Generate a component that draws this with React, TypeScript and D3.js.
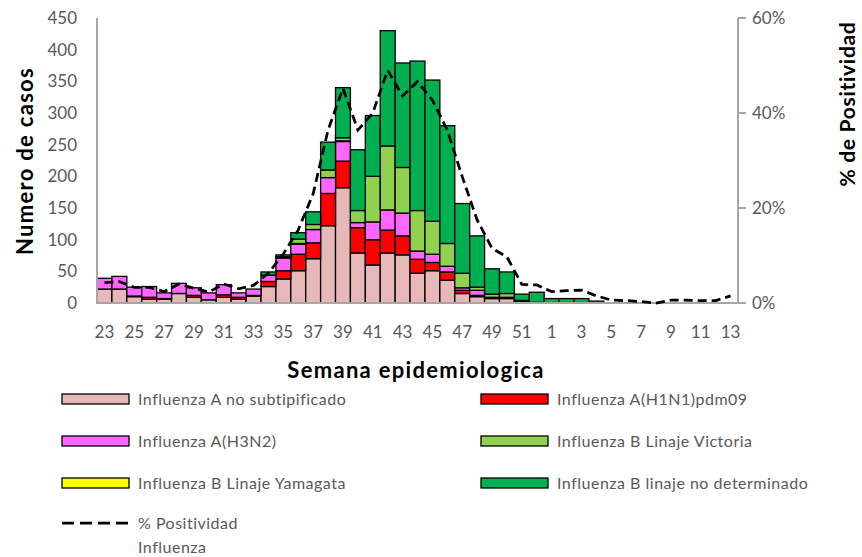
import React, { useEffect, useRef } from 'react'
import * as d3 from 'd3'

// semanas epidemiologicas (23 a 52, luego 1 a 13)
const weeks = [23, 24, 25, 26, 27, 28, 29, 30, 31, 32, 33, 34, 35, 36, 37, 38, 39, 40, 41, 42, 43, 44, 45, 46, 47, 48, 49, 50, 51, 52, 1, 2, 3, 4, 5, 6, 7, 8, 9, 10, 11, 12, 13]

const aNoSubtip = [22, 22, 10, 6, 6, 15, 9, 5, 9, 6, 11, 26, 38, 51, 70, 122, 182, 79, 60, 79, 76, 47, 51, 36, 15, 10, 7, 7, 2, 0, 0, 0, 0, 0, 0, 0, 0, 0, 0, 0, 0, 0, 0]
const aH1N1 = [0, 0, 1, 3, 1, 0, 3, 0, 4, 3, 1, 8, 13, 26, 25, 51, 42, 40, 40, 36, 30, 22, 13, 13, 5, 2, 2, 2, 1, 0, 0, 0, 0, 0, 0, 0, 0, 0, 0, 0, 0, 0, 0]
const aH3N2 = [17, 20, 14, 17, 9, 16, 12, 11, 16, 7, 10, 10, 20, 16, 21, 25, 31, 8, 28, 32, 36, 13, 13, 9, 4, 8, 0, 0, 0, 0, 0, 0, 0, 0, 0, 0, 0, 0, 0, 0, 0, 0, 0]
const bYamagata = [0, 0, 0, 0, 0, 0, 0, 0, 0, 0, 0, 0, 0, 1, 0, 0, 1, 0, 0, 0, 0, 0, 0, 0, 0, 0, 0, 0, 0, 0, 0, 0, 0, 0, 0, 0, 0, 0, 0, 0, 0, 0, 0]
const bVictoria = [0, 0, 0, 0, 0, 0, 0, 0, 0, 0, 0, 0, 2, 7, 8, 12, 5, 19, 72, 101, 72, 64, 52, 36, 23, 5, 5, 6, 1, 1, 0, 0, 0, 0, 0, 0, 0, 0, 0, 0, 0, 0, 0]
const bNoDet = [0, 0, 0, 0, 0, 0, 0, 0, 0, 0, 0, 5, 3, 10, 20, 44, 79, 96, 96, 182, 165, 236, 223, 186, 110, 81, 40, 34, 10, 16, 7, 7, 7, 3, 0, 0, 0, 0, 0, 0, 0, 0, 0]
const positividad = [4.3, 4.5, 3.3, 3.3, 2.4, 4.0, 3.1, 2.3, 4.0, 3.0, 3.7, 6.3, 10.3, 15.4, 23, 36.4, 45.2, 36.4, 40, 49, 43.6, 46.6, 42.7, 36.4, 26.6, 17.5, 11.5, 9.7, 3.9, 3.8, 2.4, 2.6, 2.7, 1.5, 0.6, 0.5, 0.3, 0, 0.6, 0.6, 0.5, 0.5, 1.5]

const seriesNames = ['Influenza A no subtipificado', 'Influenza A(H1N1)pdm09', 'Influenza A(H3N2)', 'Influenza B Linaje Victoria', 'Influenza B Linaje Yamagata', 'Influenza B linaje no determinado']
const seriesColors = ['#e6b8b7', '#ff0000', '#ff66ff', '#92d050', '#ffff00', '#00b050']
const yTicks = [0, 50, 100, 150, 200, 250, 300, 350, 400, 450]
const pctTicks = [0, 0.2, 0.4, 0.6]

const FONT = 'Lato, "Open Sans", sans-serif'

function App() {
  const ref = useRef<SVGSVGElement>(null)

  useEffect(() => {
    const svg = d3.select(ref.current)
    svg.selectAll('*').remove()

    const left = 97, right = 738, top = 18, bottom = 303

    const rows = weeks.map((w, i) => ({
      week: String(w),
      a: aNoSubtip[i],
      h1: aH1N1[i],
      h3: aH3N2[i],
      yam: bYamagata[i],
      vic: bVictoria[i],
      nd: bNoDet[i],
    }))
    const keys = ['a', 'h1', 'h3', 'yam', 'vic', 'nd']
    const keyColor: Record<string, string> = { a: '#e6b8b7', h1: '#ff0000', h3: '#ff66ff', yam: '#ffff00', vic: '#92d050', nd: '#00b050' }

    const x = d3.scaleBand<string>().domain(rows.map(d => d.week)).range([left, right]).padding(0)
    const y = d3.scaleLinear().domain([0, 450]).range([bottom, top])
    const yPct = d3.scaleLinear().domain([0, 0.6]).range([bottom, top])

    const stacked = d3.stack<any>().keys(keys)(rows)

    const g = svg.append('g')
    stacked.forEach(layer => {
      g.append('g')
        .selectAll('rect')
        .data(layer.filter(d => d[1] - d[0] > 0))
        .enter()
        .append('rect')
        .attr('x', d => x(d.data.week)!)
        .attr('width', x.bandwidth())
        .attr('y', d => y(d[1]))
        .attr('height', d => y(d[0]) - y(d[1]))
        .attr('fill', keyColor[layer.key])
        .attr('stroke', '#000')
        .attr('stroke-width', 1.3)
    })

    // ejes
    const axisColor = '#a6a6a6'
    svg.append('line').attr('x1', left).attr('x2', left).attr('y1', top).attr('y2', bottom)
      .attr('stroke', axisColor).attr('stroke-width', 2)
    svg.append('line').attr('x1', left - 1).attr('x2', right).attr('y1', bottom).attr('y2', bottom)
      .attr('stroke', axisColor).attr('stroke-width', 2)
    svg.append('line').attr('x1', right).attr('x2', right).attr('y1', top).attr('y2', bottom)
      .attr('stroke', axisColor).attr('stroke-width', 2)
    svg.selectAll('.rtick').data(pctTicks).enter().append('line')
      .attr('x1', right).attr('x2', right + 8)
      .attr('y1', d => yPct(d)).attr('y2', d => yPct(d))
      .attr('stroke', axisColor).attr('stroke-width', 2)

    // linea de positividad
    const line = d3.line<number>()
      .x((d, i) => x(rows[i].week)! + x.bandwidth() / 2)
      .y(d => yPct(d / 100))
    svg.append('path')
      .datum(positividad)
      .attr('d', line)
      .attr('fill', 'none')
      .attr('stroke', '#000')
      .attr('stroke-width', 2.75)
      .attr('stroke-dasharray', '9,5')

    const tickColor = '#595959'
    svg.selectAll('.ylab').data(yTicks).enter().append('text')
      .attr('x', 77).attr('y', d => y(d))
      .attr('dy', '0.35em').attr('text-anchor', 'end')
      .attr('font-family', FONT).attr('font-size', 17).attr('fill', tickColor)
      .text(d => d)

    svg.selectAll('.plab').data(pctTicks).enter().append('text')
      .attr('x', 752).attr('y', d => yPct(d))
      .attr('dy', '0.35em')
      .attr('font-family', FONT).attr('font-size', 17).attr('fill', tickColor)
      .text(d => d3.format('.0%')(d))

    svg.selectAll('.xlab').data(rows.filter((d, i) => i % 2 === 0)).enter().append('text')
      .attr('x', d => x(d.week)! + x.bandwidth() / 2).attr('y', 332)
      .attr('dy', '0.35em').attr('text-anchor', 'middle')
      .attr('font-family', FONT).attr('font-size', 17).attr('fill', tickColor)
      .text(d => d.week)

    // titulos
    svg.append('text').attr('x', 416).attr('y', 370).attr('dy', '0.35em')
      .attr('text-anchor', 'middle').attr('font-family', FONT).attr('font-weight', 'bold')
      .attr('font-size', 22).attr('letter-spacing', 1.3).text('Semana epidemiologica')
    svg.append('text').attr('transform', 'translate(25,161) rotate(-90)').attr('dy', '0.35em')
      .attr('text-anchor', 'middle').attr('font-family', FONT).attr('font-weight', 'bold')
      .attr('font-size', 22).attr('letter-spacing', 1.3).text('Numero de casos')
    svg.append('text').attr('transform', 'translate(848,104) rotate(-90)').attr('dy', '0.35em')
      .attr('text-anchor', 'middle').attr('font-family', FONT).attr('font-weight', 'bold')
      .attr('font-size', 21).attr('letter-spacing', 0.7).text('% de Positividad')

    // leyenda
    const legendItems = [
      { name: seriesNames[0], color: seriesColors[0], lx: 62, ly: 399 },
      { name: seriesNames[1], color: seriesColors[1], lx: 481, ly: 399 },
      { name: seriesNames[2], color: seriesColors[2], lx: 62, ly: 441 },
      { name: seriesNames[3], color: seriesColors[3], lx: 481, ly: 441 },
      { name: seriesNames[4], color: seriesColors[4], lx: 62, ly: 483 },
      { name: seriesNames[5], color: seriesColors[5], lx: 481, ly: 483 },
    ]
    const lg = svg.append('g')
    legendItems.forEach(it => {
      lg.append('rect').attr('x', it.lx).attr('y', it.ly - 5).attr('width', 67).attr('height', 10)
        .attr('fill', it.color).attr('stroke', '#000').attr('stroke-width', 1.3)
      lg.append('text').attr('x', it.lx + 76).attr('y', it.ly).attr('dy', '0.35em')
        .attr('font-family', FONT).attr('font-size', 16).attr('letter-spacing', 0.5).attr('fill', tickColor)
        .text(it.name)
    })
    lg.append('line').attr('x1', 62).attr('x2', 129).attr('y1', 523).attr('y2', 523)
      .attr('stroke', '#000').attr('stroke-width', 2.75).attr('stroke-dasharray', '12,6')
    lg.append('text').attr('x', 138).attr('y', 523).attr('dy', '0.35em')
      .attr('font-family', FONT).attr('font-size', 16).attr('letter-spacing', 0.5).attr('fill', tickColor).text('% Positividad')
    lg.append('text').attr('x', 138).attr('y', 547).attr('dy', '0.35em')
      .attr('font-family', FONT).attr('font-size', 16).attr('letter-spacing', 0.5).attr('fill', tickColor).text('Influenza')
  }, [])

  return (
    <svg ref={ref} width={862} height={557} style={{ position: 'absolute', left: 0, top: 0, background: '#fff' }}></svg>
  )
}

export default App
